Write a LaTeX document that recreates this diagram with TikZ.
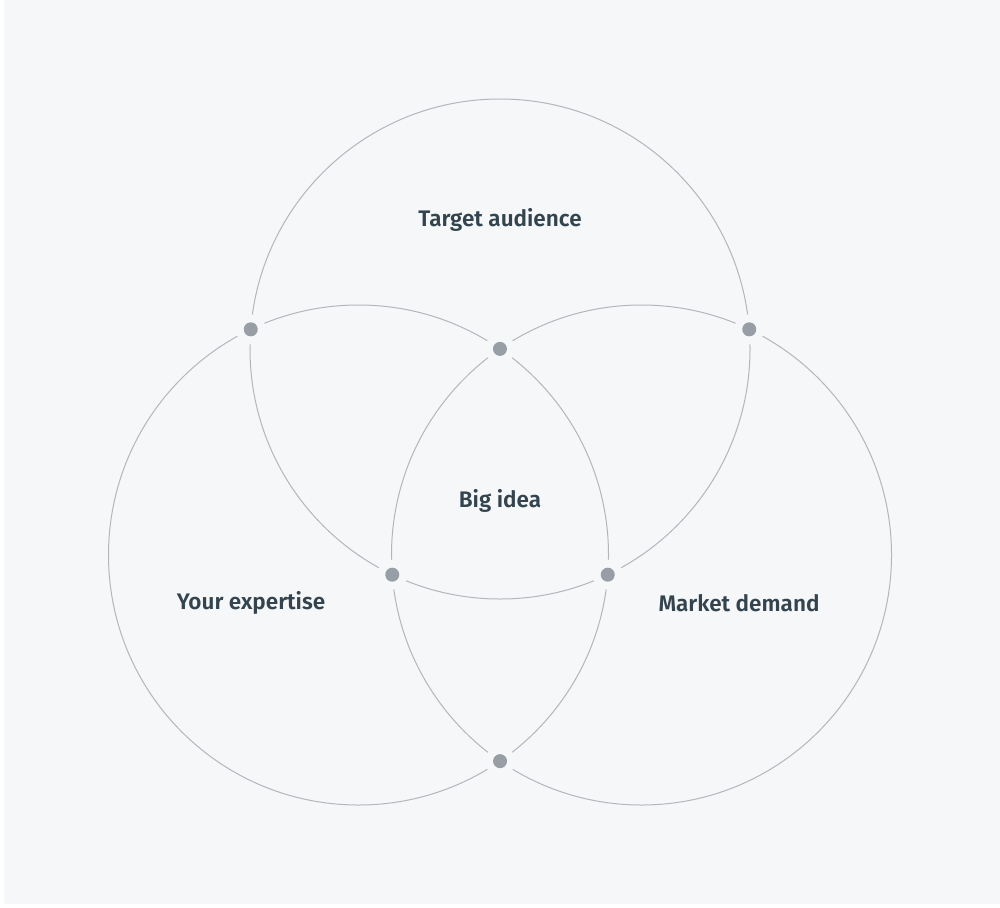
\documentclass[tikz,border=0pt]{standalone}
\usepackage{fontspec}
\setmainfont{Fira Sans}[UprightFont={* SemiBold}]
\usetikzlibrary{intersections}
\definecolor{bg}{HTML}{F5F7F9}
\definecolor{ring}{HTML}{B3B7BC}
\definecolor{dotc}{HTML}{979EA5}
\definecolor{txt}{HTML}{33444F}
\tikzset{
  ringline/.style={draw=ring, line width=1pt},
  label/.style={text=txt, font=\fontsize{22.5}{26}\selectfont, inner sep=0pt},
  halo/.style={fill=bg, draw=none},
  dotmark/.style={fill=dotc, draw=none}
}
\begin{document}
\begin{tikzpicture}[x=1pt,y=-1pt]
\useasboundingbox (0,0) rectangle (1000,907);
\fill[white] (0,0) rectangle (1000,907);
\fill[bg] (4,0) rectangle (1000,904);
\path[ringline, name path=top] (500,349) circle[radius=250];
\path[ringline, name path=left] (358.5,555) circle[radius=250];
\path[ringline, name path=right] (641.5,555) circle[radius=250];
\path[name intersections={of=top and left, by={tl1,tl2}}];
\path[name intersections={of=top and right, by={tr1,tr2}}];
\path[name intersections={of=left and right, by={lr1,lr2}}];
\foreach \p in {tl1,tl2,tr1,tr2,lr1,lr2}{
  \fill[halo] (\p) circle[radius=15];
  \fill[dotmark] (\p) circle[radius=7];
}
\node[label] (ta) at (500,220) {Target audience};
\node[label] (bi) at (500,501) {Big idea};
\node[label] (ye) at (251,603) {Your expertise};
\node[label] (md) at (739,603) {Market demand};
\end{tikzpicture}
\end{document}
